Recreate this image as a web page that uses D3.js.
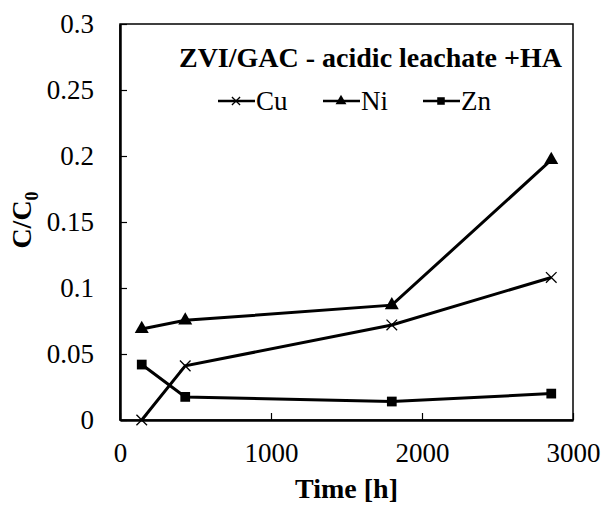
<!DOCTYPE html>
<html>
<head>
<meta charset="utf-8">
<script src="https://cdn.jsdelivr.net/npm/d3@7"></script>
<style>
  body { margin: 0; background: #fff; }
</style>
</head>
<body>
<script>
// data
const times = [144, 432, 1800, 2856]
const cu = [0, 0.041, 0.072, 0.108]
const ni = [0.069, 0.0755, 0.087, 0.197]
const zn = [0.042, 0.0175, 0.014, 0.020]
const xTicks = [0, 1000, 2000, 3000]
const yTicks = [0, 0.05, 0.1, 0.15, 0.2, 0.25, 0.3]
const seriesNames = ['Cu', 'Ni', 'Zn']

const FONT = '"Liberation Serif"'

const width = 605
const height = 507
const margin = { top: 24, right: 32, bottom: 87, left: 120 }
const innerWidth = width - margin.left - margin.right
const innerHeight = height - margin.top - margin.bottom

const svg = d3.select('body').append('svg')
  .attr('width', width)
  .attr('height', height)

const g = svg.append('g')
  .attr('transform', `translate(${margin.left},${margin.top})`)

const xScale = d3.scaleLinear().domain([0, 3000]).range([0, innerWidth])
const yScale = d3.scaleLinear().domain([0, 0.3]).range([innerHeight, 0])

//frame around plot
g.append('rect')
  .attr('width', innerWidth)
  .attr('height', innerHeight)
  .attr('fill', 'none')
  .attr('stroke', '#000')
  .attr('stroke-width', 1.5)

const xAxis = d3.axisBottom(xScale)
  .tickValues(xTicks)
  .tickFormat(d3.format('d'))
  .tickSizeInner(-7)
  .tickSizeOuter(0)
  .tickPadding(23)

const yAxis = d3.axisLeft(yScale)
  .tickValues(yTicks)
  .tickFormat(d => d === 0 ? '0' : String(+d.toFixed(2)))
  .tickSizeInner(-7)
  .tickSizeOuter(0)
  .tickPadding(26)

g.append('g')
  .attr('transform', `translate(0,${innerHeight})`)
  .call(xAxis)

g.append('g').call(yAxis)

g.selectAll('.domain').attr('stroke-width', 2.5)
g.selectAll('.tick line').attr('stroke-width', 1.2)
g.selectAll('.tick text')
  .style('font-family', FONT)
  .style('font-size', '27px')
  .attr('fill', '#000')

//series lines and markers
const series = [
  { name: 'Cu', values: cu, symbol: d3.symbolTimes, size: 75, fill: false },
  { name: 'Ni', values: ni, symbol: d3.symbolTriangle, size: 85, fill: true },
  { name: 'Zn', values: zn, symbol: d3.symbolSquare, size: 95, fill: true }
]

const line = d3.line()
  .x((d, i) => xScale(times[i]))
  .y(d => yScale(d))

function drawMarker(sel, s) {
  sel.append('path')
    .attr('d', d3.symbol().type(s.symbol).size(s.size)())
    .attr('fill', s.fill ? '#000' : 'none')
    .attr('stroke', '#000')
    .attr('stroke-width', s.fill ? 0 : 1.3)
}

series.forEach(s => {
  g.append('path')
    .datum(s.values)
    .attr('d', line)
    .attr('fill', 'none')
    .attr('stroke', '#000')
    .attr('stroke-width', 3)

  s.values.forEach((v, i) => {
    const m = g.append('g')
      .attr('transform', `translate(${xScale(times[i])},${yScale(v)})`)
    drawMarker(m, s)
  })
})

//legend
g.append('text')
  .text('ZVI/GAC - acidic leachate +HA')
  .attr('x', innerWidth - 11)
  .attr('y', 43)
  .attr('text-anchor', 'end')
  .style('font-family', FONT)
  .style('font-size', '28px')
  .style('font-weight', 'bold')

const legendX = [98, 203, 303]
series.forEach((s, i) => {
  const lg = g.append('g')
    .attr('transform', `translate(${legendX[i]},${77})`)
  lg.append('line')
    .attr('x1', 0).attr('x2', 37)
    .attr('stroke', '#000').attr('stroke-width', 2.5)
  const m = lg.append('g').attr('transform', 'translate(18,0)')
  drawMarker(m, Object.assign({}, s, { size: s.size * 0.6 }))
  lg.append('text')
    .text(seriesNames[i])
    .attr('x', 38)
    .attr('y', 9)
    .style('font-family', FONT)
    .style('font-size', '27px')
})

//axis titles
g.append('text')
  .text('Time [h]')
  .attr('x', innerWidth / 2)
  .attr('y', innerHeight + 78)
  .attr('text-anchor', 'middle')
  .style('font-family', FONT)
  .style('font-size', '28px')
  .style('font-weight', 'bold')

const yt = svg.append('text')
  .attr('transform', `translate(31,${margin.top + innerHeight / 2 - 2}) rotate(-90)`)
  .attr('text-anchor', 'middle')
  .style('font-family', FONT)
  .style('font-size', '28px')
  .style('font-weight', 'bold')
yt.append('tspan').text('C/C')
yt.append('tspan').text('0')
  .attr('dy', 7)
  .style('font-size', '18px')
</script>
</body>
</html>
